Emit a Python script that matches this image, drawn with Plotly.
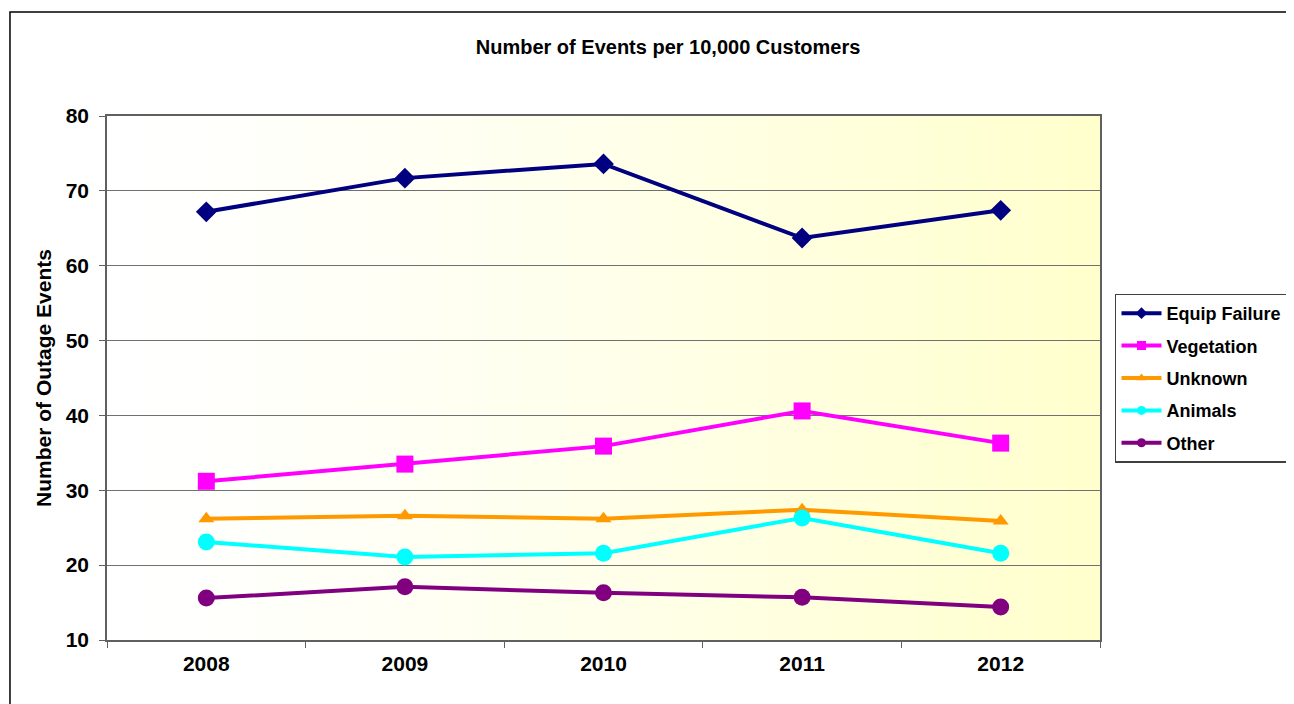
import plotly.graph_objects as go

years = ["2008", "2009", "2010", "2011", "2012"]
equip_failure = [67.2, 71.7, 73.6, 63.7, 67.4]
vegetation = [31.2, 33.5, 35.9, 40.6, 36.3]
unknown = [26.2, 26.6, 26.2, 27.4, 25.9]
animals = [23.1, 21.1, 21.6, 26.3, 21.6]
other = [15.6, 17.1, 16.3, 15.7, 14.4]

series = [
    ("Equip Failure", equip_failure, "#000080", "diamond", 16, 9),
    ("Vegetation", vegetation, "#FF00FF", "square", 17, 9),
    ("Unknown", unknown, "#FF9900", "triangle-up", 14, 9),
    ("Animals", animals, "#00FFFF", "circle", 17, 9),
    ("Other", other, "#800080", "circle", 17, 9),
]

fig = go.Figure()
for name, vals, color, sym, size, lsize in series:
    fig.add_trace(go.Scatter(
        x=years, y=vals, name=name, mode="lines+markers",
        line=dict(color=color, width=4),
        marker=dict(symbol=sym, size=size, color=color),
        showlegend=False, legendgroup=name,
    ))
# legend entries with small markers (as in the original legend)
for name, vals, color, sym, size, lsize in series:
    fig.add_trace(go.Scatter(
        x=[None], y=[None], name=f"<b>{name}</b>", mode="lines+markers",
        line=dict(color=color, width=4),
        marker=dict(symbol=sym, size=lsize, color=color),
        showlegend=True, legendgroup=name,
    ))

# horizontal gradient background (white -> light yellow)
shapes = []
n = 60
for i in range(n):
    t = (i + 0.5) / n
    g = t ** 1.3
    b = int(round(255 - (255 - 204) * g))
    shapes.append(dict(type="rect", xref="paper", yref="paper",
                       x0=i / n, x1=(i + 1) / n + 0.002, y0=0, y1=1,
                       fillcolor=f"rgb(255,255,{b})", line=dict(width=0),
                       layer="below"))
# outer chart border
shapes.append(dict(type="rect", xref="paper", yref="paper",
                   x0=-0.0977, x1=1.3, y0=-0.3, y1=1.1985,
                   line=dict(color="black", width=1.5), fillcolor="rgba(0,0,0,0)",
                   layer="below"))

font_family = "Liberation Sans, Arial, sans-serif"

W, H = 1294, 696
fig.update_layout(
    width=W, height=H,
    paper_bgcolor="white", plot_bgcolor="white",
    margin=dict(l=99, r=202, t=108, b=64),
    shapes=shapes,
    title=dict(text="<b>Number of Events per 10,000 Customers</b>",
               x=0.565, xref="paper", xanchor="center",
               y=1 - 39 / H, yref="container", yanchor="middle",
               font=dict(family=font_family, size=20, color="black")),
    font=dict(family=font_family, color="black"),
    showlegend=True,
    legend=dict(x=1.0151, xanchor="left", y=0.5, yanchor="middle",
                bordercolor="#404040", borderwidth=1.5, bgcolor="white",
                font=dict(family=font_family, size=18, color="black"),
                itemwidth=40, tracegroupgap=6, itemclick=False),
    xaxis=dict(type="category", range=[-0.5, 4.5],
               tickson="boundaries", ticks="outside", ticklen=6,
               tickcolor="#606060", showline=True, linecolor="#606060",
               linewidth=1.5, mirror=True, showgrid=False,
               tickfont=dict(size=21, family=font_family),
               ticklabelstandoff=4),
    yaxis=dict(range=[10, 80], dtick=10, ticks="outside", ticklen=6,
               tickcolor="#606060", showline=True, linecolor="#606060",
               linewidth=1.5, mirror=True, showgrid=True,
               gridcolor="#707070", gridwidth=1,
               tickfont=dict(size=21, family=font_family),
               ticklabelstandoff=6,
               title=dict(text="<b>Number of Outage Events</b>",
                          font=dict(size=21, family=font_family),
                          standoff=8)),
)
fig.update_xaxes(tickprefix="<b>", ticksuffix="</b>")
fig.update_yaxes(tickprefix="<b>", ticksuffix="</b>")

fig.write_html("out.html")
